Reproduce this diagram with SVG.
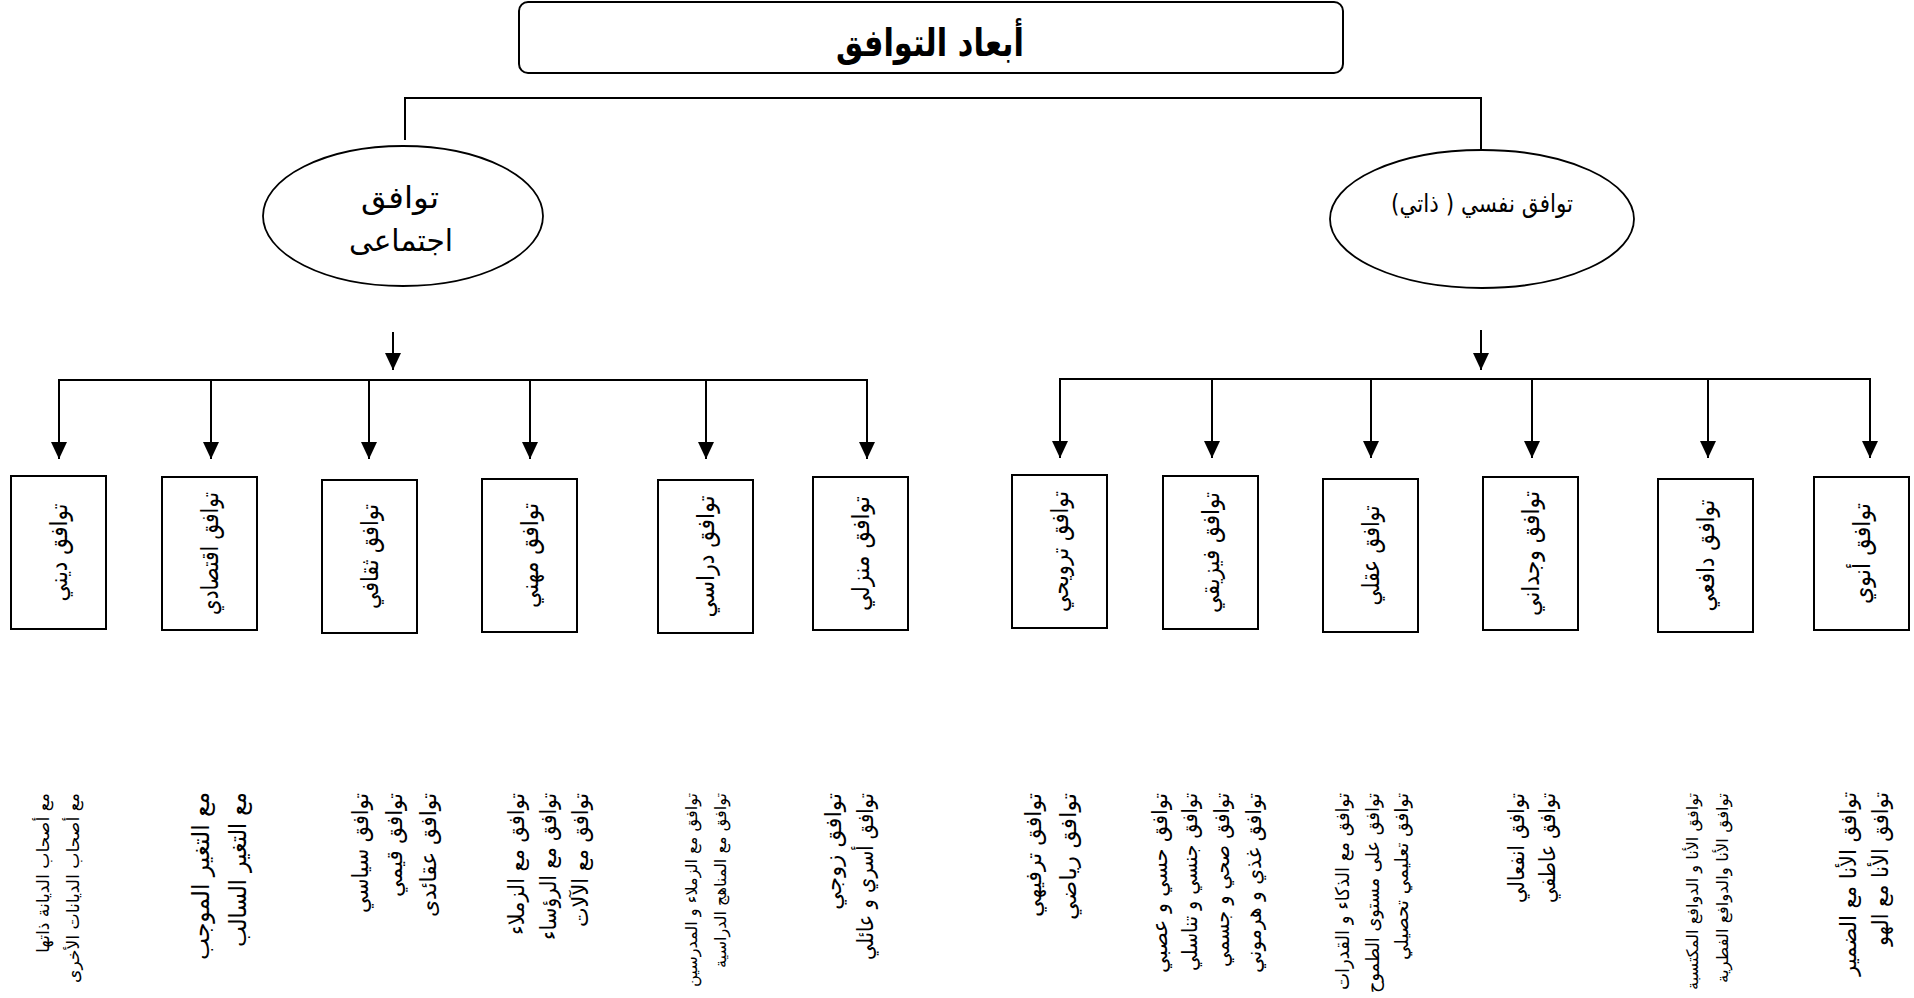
<svg xmlns="http://www.w3.org/2000/svg" width="1914" height="998" viewBox="0 0 1914 998">
<style>
.ar{font-family:'DejaVu Sans','Noto Sans',sans-serif;fill:#000;direction:rtl}
.box{fill:#fff;stroke:#000;stroke-width:2}
.ell{fill:#fff;stroke:#000;stroke-width:1.8}
.ln{stroke:#000;stroke-width:2;fill:none}
.bl{font-size:24px;text-anchor:middle;dominant-baseline:central}
.ds{text-anchor:start;dominant-baseline:central}
</style>
<defs>
<marker id="ah" markerUnits="userSpaceOnUse" viewBox="0 0 17 16" markerWidth="17" markerHeight="16" refX="17" refY="8" orient="auto">
<path d="M0,0 L17,8 L0,16 Z" fill="#000"/>
</marker>
</defs>
<rect x="0" y="0" width="1914" height="998" fill="#fff"/>

<g id="connectors">
<path class="ln" d="M405,140 V98 H1481 V149"/>
<line class="ln" x1="393" y1="332" x2="393" y2="370" marker-end="url(#ah)"/>
<line class="ln" x1="59" y1="380" x2="868" y2="380"/>
<line class="ln" x1="59" y1="379" x2="59" y2="459" marker-end="url(#ah)"/>
<line class="ln" x1="211" y1="380" x2="211" y2="459" marker-end="url(#ah)"/>
<line class="ln" x1="369" y1="380" x2="369" y2="459" marker-end="url(#ah)"/>
<line class="ln" x1="530" y1="380" x2="530" y2="459" marker-end="url(#ah)"/>
<line class="ln" x1="706" y1="380" x2="706" y2="459" marker-end="url(#ah)"/>
<line class="ln" x1="867" y1="379" x2="867" y2="459" marker-end="url(#ah)"/>
<line class="ln" x1="1481" y1="330" x2="1481" y2="370" marker-end="url(#ah)"/>
<line class="ln" x1="1060" y1="379" x2="1870" y2="379"/>
<line class="ln" x1="1060" y1="378" x2="1060" y2="458" marker-end="url(#ah)"/>
<line class="ln" x1="1212" y1="379" x2="1212" y2="458" marker-end="url(#ah)"/>
<line class="ln" x1="1371" y1="379" x2="1371" y2="458" marker-end="url(#ah)"/>
<line class="ln" x1="1532" y1="379" x2="1532" y2="458" marker-end="url(#ah)"/>
<line class="ln" x1="1708" y1="379" x2="1708" y2="458" marker-end="url(#ah)"/>
<line class="ln" x1="1870" y1="378" x2="1870" y2="458" marker-end="url(#ah)"/>
</g>

<g id="title">
<rect class="box" x="519" y="2" width="824" height="71" rx="9"/>
<text class="ar" x="930" y="56" font-size="38" font-weight="bold" text-anchor="middle" textLength="188" lengthAdjust="spacingAndGlyphs">أبعاد التوافق</text>
</g>

<g id="social">
<ellipse class="ell" cx="403" cy="216" rx="140" ry="70"/>
<text class="ar" x="400" y="208" font-size="30" text-anchor="middle" textLength="78" lengthAdjust="spacingAndGlyphs">توافق</text>
<text class="ar" x="401" y="251" font-size="30" text-anchor="middle" textLength="104" lengthAdjust="spacingAndGlyphs">اجتماعى</text>
</g>

<g id="self">
<ellipse class="ell" cx="1482" cy="219" rx="152" ry="69"/>
<text class="ar" x="1482" y="212" font-size="25" text-anchor="middle" textLength="182" lengthAdjust="spacingAndGlyphs">توافق نفسي ( ذاتي)</text>
</g>

<g id="box-religious"><rect class="box" x="11" y="476" width="95" height="153"/><text class="ar bl" transform="translate(58.5,552.5) rotate(-90)" textLength="98" lengthAdjust="spacingAndGlyphs">توافق ديني</text></g>
<g id="box-economic"><rect class="box" x="162" y="477" width="95" height="153"/><text class="ar bl" transform="translate(209.5,553.5) rotate(-90)" textLength="123" lengthAdjust="spacingAndGlyphs">توافق اقتصادي</text></g>
<g id="box-cultural"><rect class="box" x="322" y="480" width="95" height="153"/><text class="ar bl" transform="translate(369.5,556.5) rotate(-90)" textLength="105" lengthAdjust="spacingAndGlyphs">توافق ثقافي</text></g>
<g id="box-vocational"><rect class="box" x="482" y="479" width="95" height="153"/><text class="ar bl" transform="translate(529.5,555.5) rotate(-90)" textLength="105" lengthAdjust="spacingAndGlyphs">توافق مهني</text></g>
<g id="box-academic"><rect class="box" x="658" y="480" width="95" height="153"/><text class="ar bl" transform="translate(705.5,556.5) rotate(-90)" textLength="122" lengthAdjust="spacingAndGlyphs">توافق دراسي</text></g>
<g id="box-home"><rect class="box" x="813" y="477" width="95" height="153"/><text class="ar bl" transform="translate(860.5,553.5) rotate(-90)" textLength="115" lengthAdjust="spacingAndGlyphs">توافق منزلي</text></g>
<g id="box-recreational"><rect class="box" x="1012" y="475" width="95" height="153"/><text class="ar bl" transform="translate(1059.5,551.5) rotate(-90)" textLength="121" lengthAdjust="spacingAndGlyphs">توافق ترويحي</text></g>
<g id="box-physical"><rect class="box" x="1163" y="476" width="95" height="153"/><text class="ar bl" transform="translate(1210.5,552.5) rotate(-90)" textLength="121" lengthAdjust="spacingAndGlyphs">توافق فيزيقي</text></g>
<g id="box-mental"><rect class="box" x="1323" y="479" width="95" height="153"/><text class="ar bl" transform="translate(1370.5,555.5) rotate(-90)" textLength="100" lengthAdjust="spacingAndGlyphs">توافق عقلي</text></g>
<g id="box-emotional"><rect class="box" x="1483" y="477" width="95" height="153"/><text class="ar bl" transform="translate(1530.5,553.5) rotate(-90)" textLength="125" lengthAdjust="spacingAndGlyphs">توافق وجداني</text></g>
<g id="box-motivational"><rect class="box" x="1658" y="479" width="95" height="153"/><text class="ar bl" transform="translate(1705.5,555.5) rotate(-90)" textLength="112" lengthAdjust="spacingAndGlyphs">توافق دافعي</text></g>
<g id="box-ego"><rect class="box" x="1814" y="477" width="95" height="153"/><text class="ar bl" transform="translate(1861.5,553.5) rotate(-90)" textLength="101" lengthAdjust="spacingAndGlyphs">توافق أنوي</text></g>

<g id="desc-religious" font-size="17">
<text class="ar ds" transform="translate(43,793) rotate(-90)" textLength="160" lengthAdjust="spacingAndGlyphs">مع أصحاب الديانة ذاتها</text>
<text class="ar ds" transform="translate(73,793) rotate(-90)" textLength="190" lengthAdjust="spacingAndGlyphs">مع أصحاب الديانات الأخرى</text>
</g>
<g id="desc-economic" font-size="24">
<text class="ar ds" transform="translate(201,792) rotate(-90)" textLength="168" lengthAdjust="spacingAndGlyphs">مع التغير الموجب</text>
<text class="ar ds" transform="translate(238,792) rotate(-90)" textLength="155" lengthAdjust="spacingAndGlyphs">مع التغير السالب</text>
</g>
<g id="desc-cultural" font-size="22">
<text class="ar ds" transform="translate(360,793) rotate(-90)" textLength="120" lengthAdjust="spacingAndGlyphs">توافق سياسي</text>
<text class="ar ds" transform="translate(394,793) rotate(-90)" textLength="104" lengthAdjust="spacingAndGlyphs">توافق قيمي</text>
<text class="ar ds" transform="translate(428,793) rotate(-90)" textLength="124" lengthAdjust="spacingAndGlyphs">توافق عقائدى</text>
</g>
<g id="desc-vocational" font-size="22">
<text class="ar ds" transform="translate(516,793) rotate(-90)" textLength="142" lengthAdjust="spacingAndGlyphs">توافق مع الزملاء</text>
<text class="ar ds" transform="translate(548,793) rotate(-90)" textLength="147" lengthAdjust="spacingAndGlyphs">توافق مع الرؤساء</text>
<text class="ar ds" transform="translate(580,793) rotate(-90)" textLength="134" lengthAdjust="spacingAndGlyphs">توافق مع الآلات</text>
</g>
<g id="desc-academic" font-size="16">
<text class="ar ds" transform="translate(691,793) rotate(-90)" textLength="194" lengthAdjust="spacingAndGlyphs">توافق مع الزملاء و المدرسين</text>
<text class="ar ds" transform="translate(720,793) rotate(-90)" textLength="175" lengthAdjust="spacingAndGlyphs">توافق مع المناهج الدراسية</text>
</g>
<g id="desc-home" font-size="22">
<text class="ar ds" transform="translate(833,793) rotate(-90)" textLength="117" lengthAdjust="spacingAndGlyphs">توافق زوجي</text>
<text class="ar ds" transform="translate(865,793) rotate(-90)" textLength="167" lengthAdjust="spacingAndGlyphs">توافق أسري و عائلي</text>
</g>
<g id="desc-recreational" font-size="22">
<text class="ar ds" transform="translate(1033,793) rotate(-90)" textLength="124" lengthAdjust="spacingAndGlyphs">توافق ترفيهي</text>
<text class="ar ds" transform="translate(1068,793) rotate(-90)" textLength="127" lengthAdjust="spacingAndGlyphs">توافق رياضي</text>
</g>
<g id="desc-physical" font-size="21">
<text class="ar ds" transform="translate(1160,793) rotate(-90)" textLength="180" lengthAdjust="spacingAndGlyphs">توافق حسي و عصبي</text>
<text class="ar ds" transform="translate(1190,793) rotate(-90)" textLength="178" lengthAdjust="spacingAndGlyphs">توافق جنسي و تناسلي</text>
<text class="ar ds" transform="translate(1222,793) rotate(-90)" textLength="174" lengthAdjust="spacingAndGlyphs">توافق صحي و جسمي</text>
<text class="ar ds" transform="translate(1254,793) rotate(-90)" textLength="180" lengthAdjust="spacingAndGlyphs">توافق غذي و هرموني</text>
</g>
<g id="desc-mental" font-size="19">
<text class="ar ds" transform="translate(1342,793) rotate(-90)" textLength="197" lengthAdjust="spacingAndGlyphs">توافق مع الذكاء و القدرات</text>
<text class="ar ds" transform="translate(1372,793) rotate(-90)" textLength="200" lengthAdjust="spacingAndGlyphs">توافق على مستوى الطموح</text>
<text class="ar ds" transform="translate(1401,793) rotate(-90)" textLength="167" lengthAdjust="spacingAndGlyphs">توافق تعليمي تحصيلي</text>
</g>
<g id="desc-emotional" font-size="22">
<text class="ar ds" transform="translate(1516,793) rotate(-90)" textLength="110" lengthAdjust="spacingAndGlyphs">توافق انفعالي</text>
<text class="ar ds" transform="translate(1547,793) rotate(-90)" textLength="110" lengthAdjust="spacingAndGlyphs">توافق عاطفي</text>
</g>
<g id="desc-motivational" font-size="16">
<text class="ar ds" transform="translate(1692,793) rotate(-90)" textLength="197" lengthAdjust="spacingAndGlyphs">توافق الأنا و الدوافع المكتسبة</text>
<text class="ar ds" transform="translate(1722,793) rotate(-90)" textLength="190" lengthAdjust="spacingAndGlyphs">توافق الأنا والدوافع الفطرية</text>
</g>
<g id="desc-ego" font-size="22">
<text class="ar ds" transform="translate(1848,792) rotate(-90)" textLength="184" lengthAdjust="spacingAndGlyphs">توافق الأنا مع الضمير</text>
<text class="ar ds" transform="translate(1880,792) rotate(-90)" textLength="154" lengthAdjust="spacingAndGlyphs">توافق الأنا مع الهو</text>
</g>
</svg>
